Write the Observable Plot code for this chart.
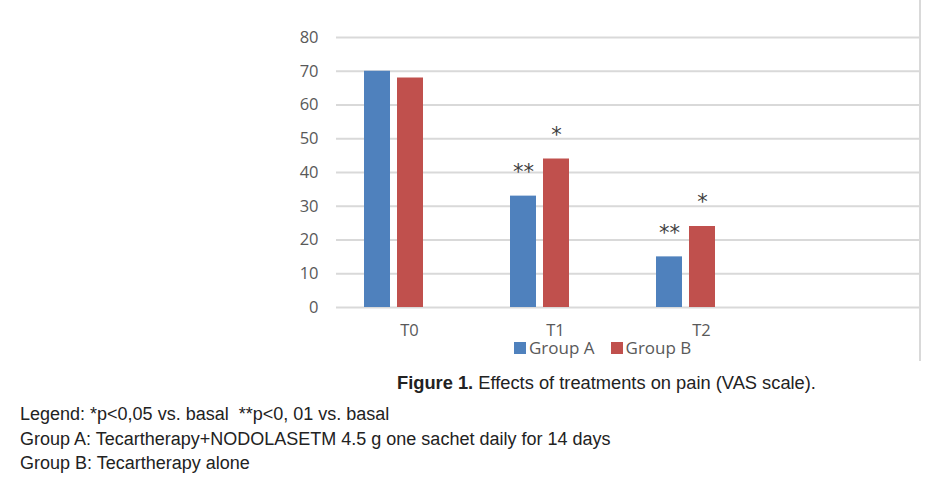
<!DOCTYPE html>
<html><head><meta charset="utf-8">
<script src="https://cdn.jsdelivr.net/npm/d3@7"></script>
<script src="https://cdn.jsdelivr.net/npm/@observablehq/plot@0.6"></script>
<style>
html,body{margin:0;padding:0;background:#fff;}
#wrap{position:relative;width:929px;height:497px;overflow:hidden;background:#fff;}
#chart{position:absolute;left:0;top:0;}
#border{position:absolute;left:919px;top:0;width:0;height:361px;border-left:2px solid #d9d9d9;}
#legend{position:absolute;left:514px;top:336px;}
.lg-swatches{font-family:"Open Sans",sans-serif !important;font-size:17px !important;color:#595959 !important;margin:0 !important;min-height:0 !important;}
.lg-swatch{margin-right:16px !important;}
.lg-swatch > svg{margin-right:3px !important;}
#caption{position:absolute;left:397px;top:372px;font-family:"Liberation Sans",sans-serif;font-size:18.3px;color:#222;white-space:nowrap;}
#notes{position:absolute;left:20px;top:402px;font-family:"Liberation Sans",sans-serif;font-size:18px;line-height:24.5px;color:#222;white-space:nowrap;}
</style>
</head><body>
<div id="wrap">
  <div id="chart"></div>
  <div id="border"></div>
  <div id="legend"></div>
  <div id="caption"><b>Figure 1.</b> Effects of treatments on pain (VAS scale).</div>
  <div id="notes">Legend: *p&lt;0,05 vs. basal&nbsp; **p&lt;0, 01 vs. basal<br>Group A: Tecartherapy+NODOLASETM 4.5 g one sachet daily for 14 days<br>Group B: Tecartherapy alone</div>
</div>
<script>
const timepoints = ["T0", "T1", "T2"];
const categories = ["T0", "T1", "T2", " "];
const groups = ["Group A", "Group B"];
const groupA = [70, 33, 15];
const groupB = [68, 44, 24];
const signifA = ["", "**", "**"];
const signifB = ["", "*", "*"];
const yTicks = [0, 10, 20, 30, 40, 50, 60, 70, 80];
const colors = ["#4f81bd", "#c0504d"];

const rows = [];
timepoints.forEach((t, i) => {
  rows.push({time: t, group: groups[0], value: groupA[i], sig: signifA[i]});
  rows.push({time: t, group: groups[1], value: groupB[i], sig: signifB[i]});
});
const gridRows = [];
categories.forEach(c => yTicks.forEach(v => gridRows.push({time: c, v})));

const font = '"Open Sans", sans-serif';
const chart = Plot.plot({
  width: 929,
  height: 362,
  marginLeft: 336,
  marginRight: 9,
  marginTop: 37,
  marginBottom: 55,
  style: {fontFamily: font, fontSize: "16px", color: "#595959", background: "transparent"},
  fx: {domain: categories, padding: 0, label: null, axis: null},
  x: {domain: groups, paddingInner: 0.212, paddingOuter: 1.318, align: 0.32, axis: null},
  y: {domain: [0, 80], ticks: yTicks, label: null},
  color: {domain: groups, range: colors},
  marks: [
    Plot.ruleY(gridRows, {fx: "time", y: "v", stroke: "#d9d9d9", strokeWidth: 2}),
    Plot.axisY({ticks: yTicks, tickSize: 0, tickPadding: 18, label: null, fontSize: 16.5, fill: "#595959"}),
    Plot.axisFx({anchor: "bottom", tickSize: 0, tickPadding: 17, label: null, fontSize: 16.5, fill: "#595959"}),
    Plot.barY(rows, {fx: "time", x: "group", y: "value", fill: "group"}),
    Plot.text(rows, {fx: "time", x: "group", y: "value", text: "sig", dy: -24, fontSize: 21, fill: "#404040", fontFamily: '"DejaVu Sans", sans-serif'})
  ]
});
document.getElementById("chart").appendChild(chart);

const lg = Plot.legend({color: {domain: groups, range: colors}, className: "lg", swatchSize: 12});
document.getElementById("legend").appendChild(lg);
</script>
</body></html>
